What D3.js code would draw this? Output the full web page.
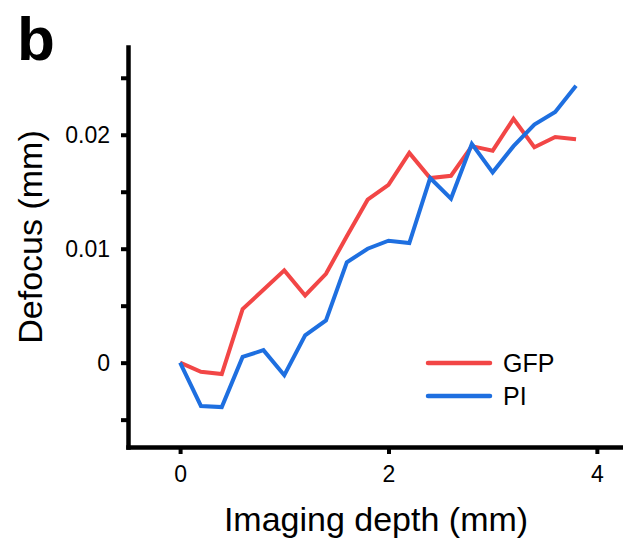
<!DOCTYPE html>
<html>
<head>
<meta charset="utf-8">
<script src="https://cdn.jsdelivr.net/npm/d3@7"></script>
<style>
  body { margin: 0; background: #fff; }
  svg { display: block; font-family: "Liberation Sans", Arial, sans-serif; }
</style>
</head>
<body>
<div id="chart"></div>
<script>
const depth = [0, 0.2, 0.4, 0.6, 0.8, 1.0, 1.2, 1.4, 1.6, 1.8, 2.0, 2.2, 2.4, 2.6, 2.8, 3.0, 3.2, 3.4, 3.6, 3.8];
const gfp = [0, -0.0008, -0.001, 0.0047, 0.0064, 0.0081, 0.0059, 0.0078, 0.0111, 0.0143,
  0.0156, 0.0184, 0.0162, 0.0164, 0.019, 0.0186, 0.0214, 0.0189, 0.0198, 0.0196];
const pi = [0, -0.0038, -0.0039, 0.0005, 0.0011, -0.0011, 0.0024, 0.0037, 0.0088, 0.01,
  0.0107, 0.0105, 0.0162, 0.0144, 0.0192, 0.0167, 0.019, 0.0209, 0.022, 0.0243];
const seriesNames = ["GFP", "PI"];
const seriesColors = ["#f24646", "#1e6fe0"];
const yTicks = [-0.005, 0, 0.005, 0.01, 0.015, 0.02, 0.025];
const yLabels = { 0: "0", 0.01: "0.01", 0.02: "0.02" };
const xTicks = [0, 2, 4];

const width = 623;
const height = 541;

const svg = d3.select("#chart").append("svg")
  .attr("width", width)
  .attr("height", height);

const x = d3.scaleLinear().domain([-0.5, 4.27]).range([128, 625]);
const y = d3.scaleLinear().domain([-0.0074, 0.0277]).range([447, 47]);

// y axis
const yAxis = svg.append("g")
  .attr("transform", `translate(${x(-0.5)},0)`)
  .call(d3.axisLeft(y)
    .tickValues(yTicks)
    .tickSize(7)
    .tickSizeOuter(0)
    .tickPadding(11)
    .tickFormat(d => yLabels[d] ?? ""));

// x axis
const xAxis = svg.append("g")
  .attr("transform", `translate(0,${y(-0.0074)})`)
  .call(d3.axisBottom(x)
    .tickValues(xTicks)
    .tickSize(7)
    .tickSizeOuter(0)
    .tickPadding(12)
    .tickFormat(d3.format("d")));

[yAxis, xAxis].forEach(ax => {
  ax.attr("font-size", null).attr("font-family", null);
  ax.select(".domain").attr("stroke-width", 4.5).attr("stroke-linecap", "square");
  ax.selectAll(".tick line").attr("stroke-width", 4);
  ax.selectAll(".tick text")
    .style("font-size", "23px")
    .attr("fill", "#000");
});

// lines
const line = d3.line()
  .x((d, i) => x(depth[i]))
  .y(d => y(d));

[gfp, pi].forEach((vals, k) => {
  svg.append("path")
    .datum(vals)
    .attr("fill", "none")
    .attr("stroke", seriesColors[k])
    .attr("stroke-width", 4)
    .attr("stroke-linejoin", "miter")
    .attr("d", line);
});

// legend
const legend = svg.append("g").attr("transform", "translate(428,363)");
seriesNames.forEach((name, i) => {
  const row = legend.append("g").attr("transform", `translate(0,${i * 33})`);
  row.append("line")
    .attr("x1", 0).attr("x2", 62)
    .attr("stroke", seriesColors[i])
    .attr("stroke-width", 4.5)
    .attr("stroke-linecap", "round");
  row.append("text")
    .attr("x", 75)
    .attr("dy", "0.36em")
    .style("font-size", "25px")
    .text(name);
});

// axis titles
svg.append("text")
  .attr("x", 376)
  .attr("y", 531)
  .attr("text-anchor", "middle")
  .style("font-size", "34px")
  .text("Imaging depth (mm)");

svg.append("text")
  .attr("transform", "translate(42,237) rotate(-90)")
  .attr("text-anchor", "middle")
  .style("font-size", "34px")
  .text("Defocus (mm)");

// panel letter
svg.append("text")
  .attr("x", 17)
  .attr("y", 60)
  .style("font-size", "62px")
  .attr("font-weight", "bold")
  .text("b");
</script>
</body>
</html>
